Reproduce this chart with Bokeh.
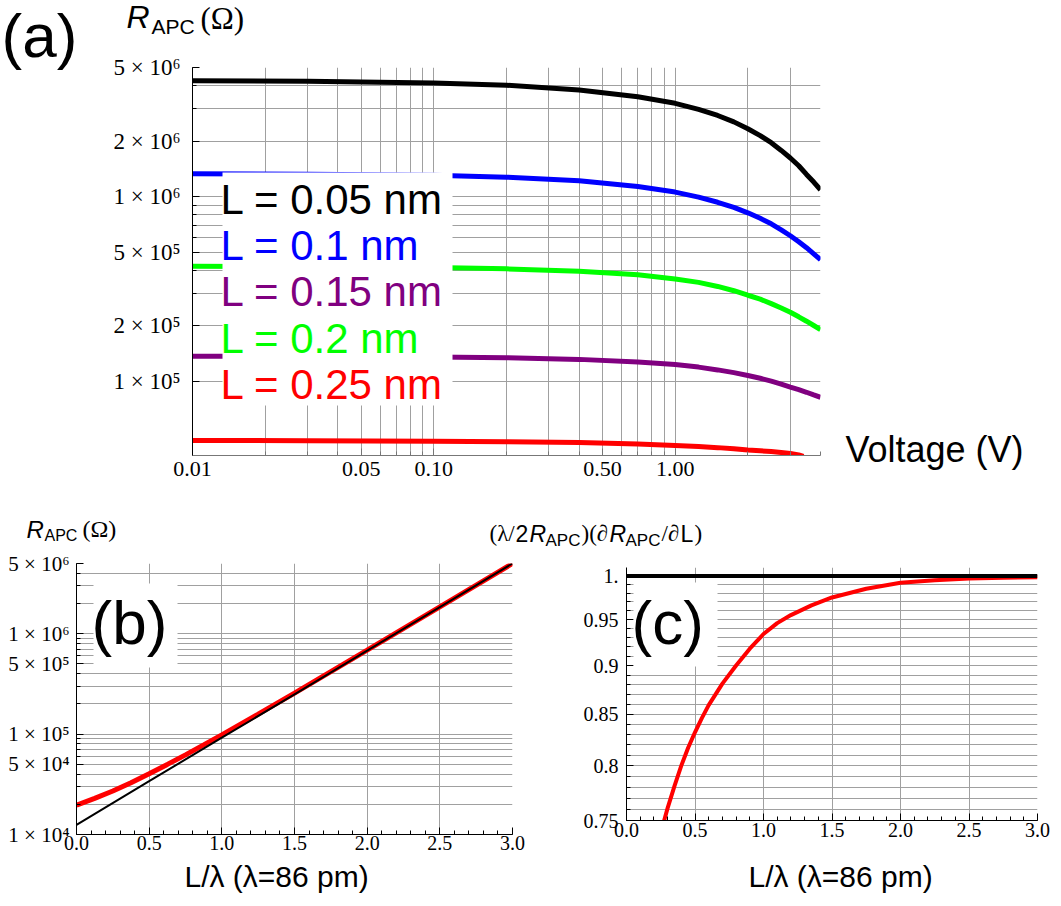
from bokeh.plotting import figure
from bokeh.layouts import column, row
from bokeh.models import (FixedTicker, CustomJSTickFormatter, Label, BoxAnnotation,
                          Range1d, NumeralTickFormatter)
from bokeh.embed import file_html
from bokeh.resources import INLINE

# ---------------- data: panel (a) ----------------
voltage = [0.01, 0.03, 0.1, 0.2, 0.4, 0.7, 1.0, 1.25, 1.5, 1.75, 2.0, 2.25, 2.5, 2.75, 3.0, 3.25, 3.5, 3.75, 4.0]
r_black = [4.24e6, 4.21e6, 4.12e6, 4.01e6, 3.78e6, 3.47e6, 3.20e6, 2.97e6, 2.75e6, 2.54e6,
           2.33e6, 2.14e6, 1.96e6, 1.78e6, 1.62e6, 1.47e6, 1.32e6, 1.20e6, 1.09e6]
r_blue = [1.33e6, 1.324e6, 1.306e6, 1.276e6, 1.219e6, 1.135e6, 1.059e6, 9.95e5, 9.33e5, 8.75e5,
          8.18e5, 7.64e5, 7.13e5, 6.62e5, 6.15e5, 5.71e5, 5.30e5, 4.91e5, 4.56e5]
r_green = [4.20e5, 4.19e5, 4.14e5, 4.07e5, 3.95e5, 3.78e5, 3.59e5, 3.44e5, 3.27e5, 3.10e5,
           2.93e5, 2.79e5, 2.64e5, 2.50e5, 2.37e5, 2.24e5, 2.12e5, 2.01e5, 1.91e5]
r_purple = [1.37e5, 1.368e5, 1.358e5, 1.346e5, 1.318e5, 1.276e5, 1.236e5, 1.197e5, 1.156e5, 1.117e5,
            1.079e5, 1.042e5, 1.005e5, 9.68e4, 9.33e4, 9.04e4, 8.75e4, 8.47e4, 8.22e4]
voltage_red = [0.01, 0.03, 0.1, 0.2, 0.4, 0.7, 1.0, 1.25, 1.5, 1.75, 2.0, 2.25, 2.5, 2.75, 3.0, 3.25, 3.4]
r_red = [4.80e4, 4.79e4, 4.76e4, 4.73e4, 4.68e4, 4.59e4, 4.51e4, 4.45e4, 4.39e4, 4.33e4,
         4.26e4, 4.22e4, 4.18e4, 4.13e4, 4.08e4, 4.01e4, 3.94e4]
legend_labels = ["L = 0.05 nm", "L = 0.1 nm", "L = 0.15 nm", "L = 0.2 nm", "L = 0.25 nm"]
legend_colors = ["#000000", "#0000ff", "#800080", "#00ff00", "#ff0000"]

a_xticks = [0.01, 0.05, 0.1, 0.5, 1.0]
a_xlabels = ["0.01", "0.05", "0.10", "0.50", "1.00"]
a_xgrid = [0.01, 0.02, 0.03, 0.04, 0.05, 0.06, 0.07, 0.08, 0.09,
           0.1, 0.2, 0.3, 0.4, 0.5, 0.6, 0.7, 0.8, 0.9, 1.0, 2.0, 3.0, 4.0]
a_yticks = [1e5, 2e5, 5e5, 1e6, 2e6, 5e6]
a_ylabels = ["1 × 10⁵", "2 × 10⁵", "5 × 10⁵", "1 × 10⁶", "2 × 10⁶", "5 × 10⁶"]
a_ygrid = [1e5, 2e5, 3e5, 4e5, 5e5, 6e5, 7e5, 8e5, 9e5, 1e6, 2e6, 3e6, 4e6, 5e6]

# ---------------- data: panel (b) ----------------
lb_red = [0.0, 0.125, 0.25, 0.375, 0.5, 0.625, 0.75, 0.875, 1.0, 1.25, 1.5, 2.0, 2.5, 3.0]
rb_red = [1.96e4, 2.29e4, 2.71e4, 3.28e4, 4.03e4, 4.99e4, 6.21e4, 7.80e4, 9.82e4,
          1.58e5, 2.56e5, 6.85e5, 1.85e6, 5.0e6]
lb_black = [0.0, 0.5, 1.0, 1.5, 2.0, 2.5, 3.0]
rb_black = [1.25e4, 3.4e4, 9.2e4, 2.49e5, 6.77e5, 1.84e6, 5.0e6]
b_yticks = [1e4, 5e4, 1e5, 5e5, 1e6, 5e6]
b_ylabels = ["1 × 10⁴", "5 × 10⁴", "1 × 10⁵", "5 × 10⁵", "1 × 10⁶", "5 × 10⁶"]
b_ygrid = [2e4, 3e4, 4e4, 5e4, 6e4, 7e4, 8e4, 9e4,
           1e5, 2e5, 3e5, 4e5, 5e5, 6e5, 7e5, 8e5, 9e5,
           1e6, 2e6, 3e6, 4e6, 5e6]
lin_ticks = [0.0, 0.5, 1.0, 1.5, 2.0, 2.5, 3.0]
lin_minor = [round(0.1 * i, 1) for i in range(31)]

# ---------------- data: panel (c) ----------------
lc = [0.275, 0.3, 0.35, 0.4, 0.45, 0.5, 0.55, 0.6, 0.7, 0.8, 0.9, 1.0, 1.1, 1.2,
      1.35, 1.5, 1.75, 2.0, 2.25, 2.5, 2.75, 3.0]
c_red = [0.75, 0.761, 0.781, 0.800, 0.817, 0.832, 0.846, 0.859, 0.881, 0.900, 0.918, 0.934,
         0.946, 0.955, 0.966, 0.975, 0.985, 0.992, 0.995, 0.997, 0.998, 0.9985]
lc_black = [0.0, 3.0]
c_black = [1.0, 1.0]
c_yticks = [0.75, 0.8, 0.85, 0.9, 0.95, 1.0]
c_ylabels = ["0.75", "0.8", "0.85", "0.9", "0.95", "1."]
c_ygrid = [round(0.75 + 0.01 * i, 2) for i in range(26)]

SANS = "Liberation Sans"
SERIF = "Liberation Serif"
GRID = "#a0a0a0"
MID = 0.35  # label y marks the middle of the text box: shift from the wanted baseline

FMT_CODE = """
for (let i = 0; i < vals.length; i++) {
  if (Math.abs(tick - vals[i]) <= 1e-9 * Math.abs(vals[i]) + 1e-12) { return labs[i]; }
}
return "";
"""


def fmt(vals, labs):
    return CustomJSTickFormatter(args=dict(vals=vals, labs=labs), code=FMT_CODE)


def style_axis(ax, size, standoff, color="black"):
    ax.major_label_text_font = SERIF
    ax.major_label_text_font_size = f"{size}px"
    ax.major_label_text_color = "black"
    ax.major_tick_in = 7
    ax.major_tick_out = 0
    ax.minor_tick_in = 4
    ax.minor_tick_out = 0
    ax.axis_line_color = color
    ax.major_tick_line_color = color
    ax.minor_tick_line_color = color
    ax.major_label_standoff = standoff


def style_grid(fig):
    for g in (fig.xgrid, fig.ygrid):
        g.grid_line_color = GRID
        g.grid_line_width = 1
        g.grid_line_alpha = 1


def frame_text(fig, fl, fb, X, Y, s, size, color="black", font=SANS, style="normal"):
    """Text inside a plot frame; X, Y (baseline) are window pixels, fl/fb the frame's left/bottom."""
    fig.add_layout(Label(x=X - fl, y=fb - (Y - MID * size), x_units="screen", y_units="screen",
                         text=s, text_font=font, text_font_size=f"{size}px",
                         text_font_style=style, text_color=color, text_align="left",
                         text_baseline="alphabetic"))


def frame_box(fig, fl, fb, X0, X1, Y0, Y1):
    fig.add_layout(BoxAnnotation(left=X0 - fl, right=X1 - fl, top=fb - Y0, bottom=fb - Y1,
                                 left_units="screen", right_units="screen",
                                 top_units="screen", bottom_units="screen",
                                 fill_color="white", fill_alpha=1.0, line_color=None))


def text_fig(W, H):
    f = figure(width=W, height=H, x_range=Range1d(0, W), y_range=Range1d(H, 0),
               x_axis_location=None, y_axis_location=None, title=None,
               output_backend="svg", toolbar_location=None, min_border=0,
               min_border_left=0, min_border_right=0, min_border_top=0, min_border_bottom=0)
    f.frame_align = False
    f.outline_line_color = None
    f.xgrid.visible = False
    f.ygrid.visible = False
    return f


def strip_text(fig, X0, Y0, X, Y, s, size, color="black", font=SANS, style="normal"):
    fig.add_layout(Label(x=X - X0, y=(Y - MID * size) - Y0, text=s, text_font=font,
                         text_font_size=f"{size}px", text_font_style=style, text_color=color,
                         text_align="left", text_baseline="alphabetic"))


# ================= panel (a) =================
pa = figure(width=730, height=450, x_axis_type="log", y_axis_type="log",
            x_range=Range1d(0.01, 4.0), y_range=Range1d(3.98e4, 5e6), title=None,
            output_backend="svg", toolbar_location=None,
            min_border_left=92, min_border_right=10, min_border_top=17, min_border_bottom=45)
pa.frame_align = False
pa.outline_line_color = None
style_grid(pa)
pa.xgrid.ticker = FixedTicker(ticks=a_xgrid)
pa.ygrid.ticker = FixedTicker(ticks=a_ygrid)
pa.xaxis.ticker = FixedTicker(ticks=a_xticks, minor_ticks=a_xgrid)
pa.yaxis.ticker = FixedTicker(ticks=a_yticks, minor_ticks=a_ygrid)
pa.xaxis.formatter = fmt(a_xticks, a_xlabels)
pa.yaxis.formatter = fmt(a_yticks, a_ylabels)
style_axis(pa.xaxis[0], 22, 6, color="#777777")
style_axis(pa.yaxis[0], 23, 12)

for ys, col in [(r_black, "#000000"), (r_blue, "#0000ff"), (r_green, "#00ff00"), (r_purple, "#800080")]:
    pa.line(voltage, ys, line_color=col, line_width=5)
pa.line(voltage_red, r_red, line_color="#ff0000", line_width=5)

FLa, FBa = 192, 455
frame_box(pa, FLa, FBa, 222, 452, 172, 405)
for i, (lab, col) in enumerate(zip(legend_labels, legend_colors)):
    frame_text(pa, FLa, FBa, 220, 213.5 + 46.3 * i, lab, 42, color=col)

# text strips around panel (a)
fa_left = text_fig(100, 500)
strip_text(fa_left, 0, 0, 1, 57, "(a)", 62)

fa_head = text_fig(730, 50)
strip_text(fa_head, 100, 0, 126, 28, "R", 32, style="italic")
strip_text(fa_head, 100, 0, 151, 33.5, "APC", 21)
strip_text(fa_head, 100, 0, 200, 29, "(Ω)", 31, font=SERIF)

fa_right = text_fig(231, 500)
strip_text(fa_right, 830, 0, 845, 462, "Voltage (V)", 36)

# strip with the headers of (b) and (c)
f_mid = text_fig(1061, 51)
Y0m = 500
strip_text(f_mid, 0, Y0m, 26, 537, "R", 24, style="italic")
strip_text(f_mid, 0, Y0m, 44, 541, "APC", 16)
strip_text(f_mid, 0, Y0m, 82, 537, "(Ω)", 24, font=SERIF)
hy, sy = 541.5, 546
strip_text(f_mid, 0, Y0m, 489, hy, "(λ/", 23, font=SERIF)
strip_text(f_mid, 0, Y0m, 515, hy, "2", 23)
strip_text(f_mid, 0, Y0m, 529, hy, "R", 23, style="italic")
strip_text(f_mid, 0, Y0m, 545, sy, "APC", 17)
strip_text(f_mid, 0, Y0m, 581, hy, ")(∂", 23, font=SERIF)
strip_text(f_mid, 0, Y0m, 609, hy, "R", 23, style="italic")
strip_text(f_mid, 0, Y0m, 625, sy, "APC", 17)
strip_text(f_mid, 0, Y0m, 661, hy, "/∂", 23, font=SERIF)
strip_text(f_mid, 0, Y0m, 680, hy, "L", 23)
strip_text(f_mid, 0, Y0m, 694, hy, ")", 23, font=SERIF)

# ================= panel (b) =================
pb = figure(width=545, height=307, y_axis_type="log",
            x_range=Range1d(0.0, 3.0), y_range=Range1d(1e4, 5e6), title=None,
            output_backend="svg", toolbar_location=None,
            min_border_left=76, min_border_right=33, min_border_top=12, min_border_bottom=24)
pb.frame_align = False
pb.outline_line_color = None
style_grid(pb)
pb.xgrid.ticker = FixedTicker(ticks=lin_ticks)
pb.ygrid.ticker = FixedTicker(ticks=b_ygrid)
pb.xaxis.ticker = FixedTicker(ticks=lin_ticks, minor_ticks=lin_minor)
pb.yaxis.ticker = FixedTicker(ticks=b_yticks, minor_ticks=b_ygrid)
pb.xaxis.formatter = NumeralTickFormatter(format="0.0")
pb.yaxis.formatter = fmt(b_yticks, b_ylabels)
style_axis(pb.xaxis[0], 20, 1)
style_axis(pb.yaxis[0], 21, 7)

pb.line(lb_red, rb_red, line_color="#ff0000", line_width=5)
pb.line(lb_black, rb_black, line_color="#000000", line_width=2)

FLb, FBb = 76, 834
frame_box(pb, FLb, FBb, 93, 177, 583, 667)
frame_text(pb, FLb, FBb, 91, 644, "(b)", 62)

# ================= panel (c) =================
pc = figure(width=516, height=307, y_axis_type="log",
            x_range=Range1d(0.0, 3.0), y_range=Range1d(0.75, 1.01), title=None,
            output_backend="svg", toolbar_location=None,
            min_border_left=81, min_border_right=24, min_border_top=16, min_border_bottom=38)
pc.frame_align = False
pc.outline_line_color = None
style_grid(pc)
pc.xgrid.ticker = FixedTicker(ticks=lin_ticks)
pc.ygrid.ticker = FixedTicker(ticks=c_ygrid)
pc.xaxis.ticker = FixedTicker(ticks=lin_ticks, minor_ticks=lin_minor)
pc.yaxis.ticker = FixedTicker(ticks=c_yticks, minor_ticks=c_ygrid)
pc.xaxis.formatter = NumeralTickFormatter(format="0.0")
pc.yaxis.formatter = fmt(c_yticks, c_ylabels)
style_axis(pc.xaxis[0], 20, 2)
style_axis(pc.yaxis[0], 20, 8)

pc.line(lc, c_red, line_color="#ff0000", line_width=4)
pc.line(lc_black, c_black, line_color="#000000", line_width=4)

FLc, FBc = 626, 820
frame_box(pc, FLc, FBc, 633, 717, 582, 666)
frame_text(pc, FLc, FBc, 631, 644, "(c)", 62)

# bottom strip with the x-axis titles of (b) and (c)
f_bot = text_fig(1061, 48)
strip_text(f_bot, 0, 858, 184, 886, "L/λ (λ=86 pm)", 30)
strip_text(f_bot, 0, 858, 748, 886, "L/λ (λ=86 pm)", 30)

layout = column(
    row(fa_left, column(fa_head, pa), fa_right),
    f_mid,
    row(pb, pc),
    f_bot,
)
open("out.html", "w").write(file_html(layout, INLINE))
